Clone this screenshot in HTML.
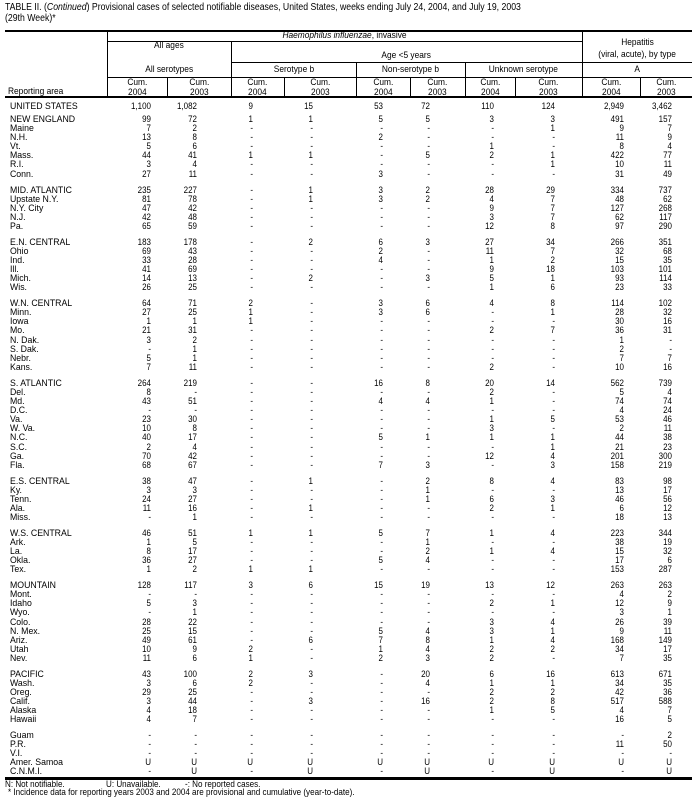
<!DOCTYPE html>
<html><head><meta charset="utf-8"><style>
body{margin:0;background:#fff;}
#p{position:relative;width:697px;height:806px;overflow:hidden;font-family:"Liberation Sans",Arial,sans-serif;color:#000;}
.t{position:absolute;white-space:nowrap;font-size:10px;line-height:11px;transform:scaleX(0.87);transform-origin:left center;}
.h{position:absolute;white-space:nowrap;font-size:9.5px;line-height:10px;text-align:center;}
.h span{display:inline-block;transform:scaleX(0.88);}
.l{position:absolute;background:#000;}
.r{position:absolute;left:0;width:697px;height:10px;font-size:9.5px;line-height:10px;}
.r span{position:absolute;top:0;white-space:nowrap;}
.r span:first-child{left:10px;transform:scaleX(0.92);transform-origin:left center;}
.r span:not(:first-child){width:40px;text-align:right;transform:scaleX(0.84);transform-origin:right center;}
.r span:nth-child(2){left:111px}.r span:nth-child(3){left:157px}.r span:nth-child(4){left:213px}.r span:nth-child(5){left:273px}.r span:nth-child(6){left:343px}.r span:nth-child(7){left:390px}.r span:nth-child(8){left:454px}.r span:nth-child(9){left:515px}.r span:nth-child(10){left:584px}.r span:nth-child(11){left:632px}
</style></head><body><div id="p">
<div class="t" style="left:5px;top:2px">TABLE II. (<i>Continued</i>) Provisional cases of selected notifiable diseases, United States, weeks ending July 24, 2004, and July 19, 2003</div>
<div class="t" style="left:5px;top:13px">(29th Week)*</div>

<div class="l" style="left:5px;top:30px;width:687px;height:2px"></div>
<div class="l" style="left:107px;top:41px;width:475px;height:1px"></div>
<div class="l" style="left:231px;top:62px;width:461px;height:1px"></div>
<div class="l" style="left:107px;top:77px;width:585px;height:1px"></div>
<div class="l" style="left:5px;top:96px;width:687px;height:2px"></div>
<div class="l" style="left:107px;top:31px;width:1px;height:66px"></div>
<div class="l" style="left:582px;top:31px;width:1px;height:66px"></div>
<div class="l" style="left:231px;top:41px;width:1px;height:56px"></div>
<div class="l" style="left:356px;top:62px;width:1px;height:35px"></div>
<div class="l" style="left:465px;top:62px;width:1px;height:35px"></div>
<div class="l" style="left:167px;top:77px;width:1px;height:20px"></div>
<div class="l" style="left:284px;top:77px;width:1px;height:20px"></div>
<div class="l" style="left:410px;top:77px;width:1px;height:20px"></div>
<div class="l" style="left:515px;top:77px;width:1px;height:20px"></div>
<div class="l" style="left:640px;top:77px;width:1px;height:20px"></div>

<div class="h" style="left:107px;width:475px;top:31px"><span><i>Haemophilus influenzae</i>, invasive</span></div>
<div class="h" style="left:582px;width:110px;top:38px"><span>Hepatitis</span></div>
<div class="h" style="left:107px;width:124px;top:41px"><span>All ages</span></div>
<div class="h" style="left:231px;width:351px;top:51px"><span>Age &lt;5 years</span></div>
<div class="h" style="left:582px;width:110px;top:50px"><span>(viral, acute), by type</span></div>
<div class="h" style="left:107px;width:124px;top:65px"><span>All serotypes</span></div>
<div class="h" style="left:231px;width:125px;top:65px"><span>Serotype b</span></div>
<div class="h" style="left:356px;width:109px;top:65px"><span>Non-serotype b</span></div>
<div class="h" style="left:465px;width:117px;top:65px"><span>Unknown serotype</span></div>
<div class="h" style="left:582px;width:110px;top:65px"><span>A</span></div>
<div class="h" style="left:107px;width:60px;top:78px"><span>Cum.<br>2004</span></div>
<div class="h" style="left:167px;width:64px;top:78px"><span>Cum.<br>2003</span></div>
<div class="h" style="left:231px;width:53px;top:78px"><span>Cum.<br>2004</span></div>
<div class="h" style="left:284px;width:72px;top:78px"><span>Cum.<br>2003</span></div>
<div class="h" style="left:356px;width:54px;top:78px"><span>Cum.<br>2004</span></div>
<div class="h" style="left:410px;width:55px;top:78px"><span>Cum.<br>2003</span></div>
<div class="h" style="left:465px;width:50px;top:78px"><span>Cum.<br>2004</span></div>
<div class="h" style="left:515px;width:67px;top:78px"><span>Cum.<br>2003</span></div>
<div class="h" style="left:582px;width:58px;top:78px"><span>Cum.<br>2004</span></div>
<div class="h" style="left:640px;width:52px;top:78px"><span>Cum.<br>2003</span></div>
<div class="h" style="left:8px;top:87px;text-align:left"><span style="transform-origin:left center">Reporting area</span></div>

<div class="r" style="top:102px"><span>UNITED STATES</span><span>1,100</span><span>1,082</span><span>9</span><span>15</span><span>53</span><span>72</span><span>110</span><span>124</span><span>2,949</span><span>3,462</span></div>
<div class="r" style="top:115px"><span>NEW ENGLAND</span><span>99</span><span>72</span><span>1</span><span>1</span><span>5</span><span>5</span><span>3</span><span>3</span><span>491</span><span>157</span></div>
<div class="r" style="top:124px"><span>Maine</span><span>7</span><span>2</span><span>-</span><span>-</span><span>-</span><span>-</span><span>-</span><span>1</span><span>9</span><span>7</span></div>
<div class="r" style="top:133px"><span>N.H.</span><span>13</span><span>8</span><span>-</span><span>-</span><span>2</span><span>-</span><span>-</span><span>-</span><span>11</span><span>9</span></div>
<div class="r" style="top:142px"><span>Vt.</span><span>5</span><span>6</span><span>-</span><span>-</span><span>-</span><span>-</span><span>1</span><span>-</span><span>8</span><span>4</span></div>
<div class="r" style="top:151px"><span>Mass.</span><span>44</span><span>41</span><span>1</span><span>1</span><span>-</span><span>5</span><span>2</span><span>1</span><span>422</span><span>77</span></div>
<div class="r" style="top:160px"><span>R.I.</span><span>3</span><span>4</span><span>-</span><span>-</span><span>-</span><span>-</span><span>-</span><span>1</span><span>10</span><span>11</span></div>
<div class="r" style="top:170px"><span>Conn.</span><span>27</span><span>11</span><span>-</span><span>-</span><span>3</span><span>-</span><span>-</span><span>-</span><span>31</span><span>49</span></div>
<div class="r" style="top:186px"><span>MID. ATLANTIC</span><span>235</span><span>227</span><span>-</span><span>1</span><span>3</span><span>2</span><span>28</span><span>29</span><span>334</span><span>737</span></div>
<div class="r" style="top:195px"><span>Upstate N.Y.</span><span>81</span><span>78</span><span>-</span><span>1</span><span>3</span><span>2</span><span>4</span><span>7</span><span>48</span><span>62</span></div>
<div class="r" style="top:204px"><span>N.Y. City</span><span>47</span><span>42</span><span>-</span><span>-</span><span>-</span><span>-</span><span>9</span><span>7</span><span>127</span><span>268</span></div>
<div class="r" style="top:213px"><span>N.J.</span><span>42</span><span>48</span><span>-</span><span>-</span><span>-</span><span>-</span><span>3</span><span>7</span><span>62</span><span>117</span></div>
<div class="r" style="top:222px"><span>Pa.</span><span>65</span><span>59</span><span>-</span><span>-</span><span>-</span><span>-</span><span>12</span><span>8</span><span>97</span><span>290</span></div>
<div class="r" style="top:238px"><span>E.N. CENTRAL</span><span>183</span><span>178</span><span>-</span><span>2</span><span>6</span><span>3</span><span>27</span><span>34</span><span>266</span><span>351</span></div>
<div class="r" style="top:247px"><span>Ohio</span><span>69</span><span>43</span><span>-</span><span>-</span><span>2</span><span>-</span><span>11</span><span>7</span><span>32</span><span>68</span></div>
<div class="r" style="top:256px"><span>Ind.</span><span>33</span><span>28</span><span>-</span><span>-</span><span>4</span><span>-</span><span>1</span><span>2</span><span>15</span><span>35</span></div>
<div class="r" style="top:265px"><span>Ill.</span><span>41</span><span>69</span><span>-</span><span>-</span><span>-</span><span>-</span><span>9</span><span>18</span><span>103</span><span>101</span></div>
<div class="r" style="top:274px"><span>Mich.</span><span>14</span><span>13</span><span>-</span><span>2</span><span>-</span><span>3</span><span>5</span><span>1</span><span>93</span><span>114</span></div>
<div class="r" style="top:283px"><span>Wis.</span><span>26</span><span>25</span><span>-</span><span>-</span><span>-</span><span>-</span><span>1</span><span>6</span><span>23</span><span>33</span></div>
<div class="r" style="top:299px"><span>W.N. CENTRAL</span><span>64</span><span>71</span><span>2</span><span>-</span><span>3</span><span>6</span><span>4</span><span>8</span><span>114</span><span>102</span></div>
<div class="r" style="top:308px"><span>Minn.</span><span>27</span><span>25</span><span>1</span><span>-</span><span>3</span><span>6</span><span>-</span><span>1</span><span>28</span><span>32</span></div>
<div class="r" style="top:317px"><span>Iowa</span><span>1</span><span>1</span><span>1</span><span>-</span><span>-</span><span>-</span><span>-</span><span>-</span><span>30</span><span>16</span></div>
<div class="r" style="top:326px"><span>Mo.</span><span>21</span><span>31</span><span>-</span><span>-</span><span>-</span><span>-</span><span>2</span><span>7</span><span>36</span><span>31</span></div>
<div class="r" style="top:336px"><span>N. Dak.</span><span>3</span><span>2</span><span>-</span><span>-</span><span>-</span><span>-</span><span>-</span><span>-</span><span>1</span><span>-</span></div>
<div class="r" style="top:345px"><span>S. Dak.</span><span>-</span><span>1</span><span>-</span><span>-</span><span>-</span><span>-</span><span>-</span><span>-</span><span>2</span><span>-</span></div>
<div class="r" style="top:354px"><span>Nebr.</span><span>5</span><span>1</span><span>-</span><span>-</span><span>-</span><span>-</span><span>-</span><span>-</span><span>7</span><span>7</span></div>
<div class="r" style="top:363px"><span>Kans.</span><span>7</span><span>11</span><span>-</span><span>-</span><span>-</span><span>-</span><span>2</span><span>-</span><span>10</span><span>16</span></div>
<div class="r" style="top:379px"><span>S. ATLANTIC</span><span>264</span><span>219</span><span>-</span><span>-</span><span>16</span><span>8</span><span>20</span><span>14</span><span>562</span><span>739</span></div>
<div class="r" style="top:388px"><span>Del.</span><span>8</span><span>-</span><span>-</span><span>-</span><span>-</span><span>-</span><span>2</span><span>-</span><span>5</span><span>4</span></div>
<div class="r" style="top:397px"><span>Md.</span><span>43</span><span>51</span><span>-</span><span>-</span><span>4</span><span>4</span><span>1</span><span>-</span><span>74</span><span>74</span></div>
<div class="r" style="top:406px"><span>D.C.</span><span>-</span><span>-</span><span>-</span><span>-</span><span>-</span><span>-</span><span>-</span><span>-</span><span>4</span><span>24</span></div>
<div class="r" style="top:415px"><span>Va.</span><span>23</span><span>30</span><span>-</span><span>-</span><span>-</span><span>-</span><span>1</span><span>5</span><span>53</span><span>46</span></div>
<div class="r" style="top:424px"><span>W. Va.</span><span>10</span><span>8</span><span>-</span><span>-</span><span>-</span><span>-</span><span>3</span><span>-</span><span>2</span><span>11</span></div>
<div class="r" style="top:433px"><span>N.C.</span><span>40</span><span>17</span><span>-</span><span>-</span><span>5</span><span>1</span><span>1</span><span>1</span><span>44</span><span>38</span></div>
<div class="r" style="top:443px"><span>S.C.</span><span>2</span><span>4</span><span>-</span><span>-</span><span>-</span><span>-</span><span>-</span><span>1</span><span>21</span><span>23</span></div>
<div class="r" style="top:452px"><span>Ga.</span><span>70</span><span>42</span><span>-</span><span>-</span><span>-</span><span>-</span><span>12</span><span>4</span><span>201</span><span>300</span></div>
<div class="r" style="top:461px"><span>Fla.</span><span>68</span><span>67</span><span>-</span><span>-</span><span>7</span><span>3</span><span>-</span><span>3</span><span>158</span><span>219</span></div>
<div class="r" style="top:477px"><span>E.S. CENTRAL</span><span>38</span><span>47</span><span>-</span><span>1</span><span>-</span><span>2</span><span>8</span><span>4</span><span>83</span><span>98</span></div>
<div class="r" style="top:486px"><span>Ky.</span><span>3</span><span>3</span><span>-</span><span>-</span><span>-</span><span>1</span><span>-</span><span>-</span><span>13</span><span>17</span></div>
<div class="r" style="top:495px"><span>Tenn.</span><span>24</span><span>27</span><span>-</span><span>-</span><span>-</span><span>1</span><span>6</span><span>3</span><span>46</span><span>56</span></div>
<div class="r" style="top:504px"><span>Ala.</span><span>11</span><span>16</span><span>-</span><span>1</span><span>-</span><span>-</span><span>2</span><span>1</span><span>6</span><span>12</span></div>
<div class="r" style="top:513px"><span>Miss.</span><span>-</span><span>1</span><span>-</span><span>-</span><span>-</span><span>-</span><span>-</span><span>-</span><span>18</span><span>13</span></div>
<div class="r" style="top:529px"><span>W.S. CENTRAL</span><span>46</span><span>51</span><span>1</span><span>1</span><span>5</span><span>7</span><span>1</span><span>4</span><span>223</span><span>344</span></div>
<div class="r" style="top:538px"><span>Ark.</span><span>1</span><span>5</span><span>-</span><span>-</span><span>-</span><span>1</span><span>-</span><span>-</span><span>38</span><span>19</span></div>
<div class="r" style="top:547px"><span>La.</span><span>8</span><span>17</span><span>-</span><span>-</span><span>-</span><span>2</span><span>1</span><span>4</span><span>15</span><span>32</span></div>
<div class="r" style="top:556px"><span>Okla.</span><span>36</span><span>27</span><span>-</span><span>-</span><span>5</span><span>4</span><span>-</span><span>-</span><span>17</span><span>6</span></div>
<div class="r" style="top:565px"><span>Tex.</span><span>1</span><span>2</span><span>1</span><span>1</span><span>-</span><span>-</span><span>-</span><span>-</span><span>153</span><span>287</span></div>
<div class="r" style="top:581px"><span>MOUNTAIN</span><span>128</span><span>117</span><span>3</span><span>6</span><span>15</span><span>19</span><span>13</span><span>12</span><span>263</span><span>263</span></div>
<div class="r" style="top:590px"><span>Mont.</span><span>-</span><span>-</span><span>-</span><span>-</span><span>-</span><span>-</span><span>-</span><span>-</span><span>4</span><span>2</span></div>
<div class="r" style="top:599px"><span>Idaho</span><span>5</span><span>3</span><span>-</span><span>-</span><span>-</span><span>-</span><span>2</span><span>1</span><span>12</span><span>9</span></div>
<div class="r" style="top:608px"><span>Wyo.</span><span>-</span><span>1</span><span>-</span><span>-</span><span>-</span><span>-</span><span>-</span><span>-</span><span>3</span><span>1</span></div>
<div class="r" style="top:618px"><span>Colo.</span><span>28</span><span>22</span><span>-</span><span>-</span><span>-</span><span>-</span><span>3</span><span>4</span><span>26</span><span>39</span></div>
<div class="r" style="top:627px"><span>N. Mex.</span><span>25</span><span>15</span><span>-</span><span>-</span><span>5</span><span>4</span><span>3</span><span>1</span><span>9</span><span>11</span></div>
<div class="r" style="top:636px"><span>Ariz.</span><span>49</span><span>61</span><span>-</span><span>6</span><span>7</span><span>8</span><span>1</span><span>4</span><span>168</span><span>149</span></div>
<div class="r" style="top:645px"><span>Utah</span><span>10</span><span>9</span><span>2</span><span>-</span><span>1</span><span>4</span><span>2</span><span>2</span><span>34</span><span>17</span></div>
<div class="r" style="top:654px"><span>Nev.</span><span>11</span><span>6</span><span>1</span><span>-</span><span>2</span><span>3</span><span>2</span><span>-</span><span>7</span><span>35</span></div>
<div class="r" style="top:670px"><span>PACIFIC</span><span>43</span><span>100</span><span>2</span><span>3</span><span>-</span><span>20</span><span>6</span><span>16</span><span>613</span><span>671</span></div>
<div class="r" style="top:679px"><span>Wash.</span><span>3</span><span>6</span><span>2</span><span>-</span><span>-</span><span>4</span><span>1</span><span>1</span><span>34</span><span>35</span></div>
<div class="r" style="top:688px"><span>Oreg.</span><span>29</span><span>25</span><span>-</span><span>-</span><span>-</span><span>-</span><span>2</span><span>2</span><span>42</span><span>36</span></div>
<div class="r" style="top:697px"><span>Calif.</span><span>3</span><span>44</span><span>-</span><span>3</span><span>-</span><span>16</span><span>2</span><span>8</span><span>517</span><span>588</span></div>
<div class="r" style="top:706px"><span>Alaska</span><span>4</span><span>18</span><span>-</span><span>-</span><span>-</span><span>-</span><span>1</span><span>5</span><span>4</span><span>7</span></div>
<div class="r" style="top:715px"><span>Hawaii</span><span>4</span><span>7</span><span>-</span><span>-</span><span>-</span><span>-</span><span>-</span><span>-</span><span>16</span><span>5</span></div>
<div class="r" style="top:731px"><span>Guam</span><span>-</span><span>-</span><span>-</span><span>-</span><span>-</span><span>-</span><span>-</span><span>-</span><span>-</span><span>2</span></div>
<div class="r" style="top:740px"><span>P.R.</span><span>-</span><span>-</span><span>-</span><span>-</span><span>-</span><span>-</span><span>-</span><span>-</span><span>11</span><span>50</span></div>
<div class="r" style="top:749px"><span>V.I.</span><span>-</span><span>-</span><span>-</span><span>-</span><span>-</span><span>-</span><span>-</span><span>-</span><span>-</span><span>-</span></div>
<div class="r" style="top:758px"><span>Amer. Samoa</span><span>U</span><span>U</span><span>U</span><span>U</span><span>U</span><span>U</span><span>U</span><span>U</span><span>U</span><span>U</span></div>
<div class="r" style="top:767px"><span>C.N.M.I.</span><span>-</span><span>U</span><span>-</span><span>U</span><span>-</span><span>U</span><span>-</span><span>U</span><span>-</span><span>U</span></div>

<div class="l" style="left:5px;top:777px;width:687px;height:3px"></div>
<div class="t" style="left:5px;top:780px;font-size:9.5px;line-height:10px;transform:scaleX(0.85)">N: Not notifiable.</div>
<div class="t" style="left:106px;top:780px;font-size:9.5px;line-height:10px;transform:scaleX(0.85)">U: Unavailable.</div>
<div class="t" style="left:185px;top:780px;font-size:9.5px;line-height:10px;transform:scaleX(0.85)">-: No reported cases.</div>
<div class="t" style="left:8px;top:788px;font-size:9.5px;line-height:10px;transform:scaleX(0.85)">* Incidence data for reporting years 2003 and 2004 are provisional and cumulative (year-to-date).</div>
</div></body></html>
